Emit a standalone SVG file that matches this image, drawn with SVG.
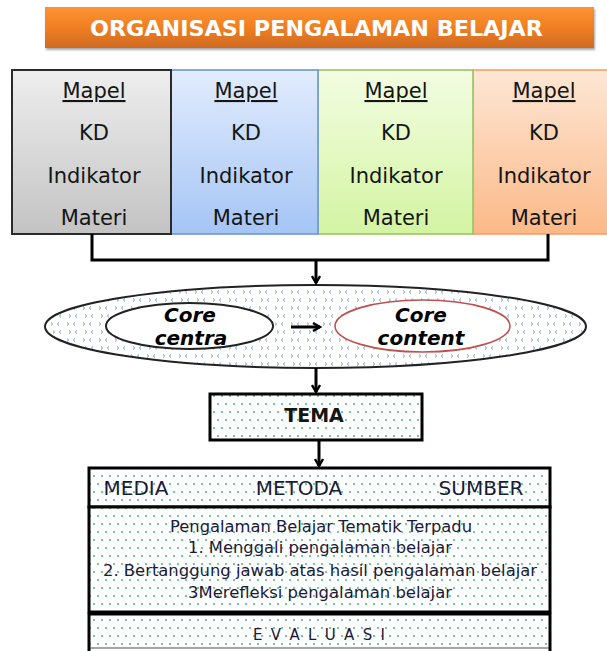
<svg xmlns="http://www.w3.org/2000/svg" width="607" height="651" viewBox="0 0 607 651">
<defs>
<style>
.t{font-family:"DejaVu Sans","Liberation Sans",sans-serif;fill:#151515;text-anchor:middle}
.box{font-size:21px}
.core{font-size:20px;font-weight:bold;font-style:italic;fill:#000}
.row{font-size:20px;fill:#1a1a3a}
.mid{font-size:15px;fill:#1a1a3a}
.thick{fill:none;stroke:#000;stroke-width:3}
.conn{fill:none;stroke:#000;stroke-width:3}
</style>
<linearGradient id="gTitle" x1="0" y1="0" x2="0" y2="1">
<stop offset="0" stop-color="#fd9332"/><stop offset="0.5" stop-color="#f07f22"/><stop offset="1" stop-color="#cf6a20"/>
</linearGradient>
<linearGradient id="gGray" x1="0" y1="0" x2="0" y2="1"><stop offset="0" stop-color="#eeeeee"/><stop offset="1" stop-color="#c3c3c3"/></linearGradient>
<linearGradient id="gBlue" x1="0" y1="0" x2="0" y2="1"><stop offset="0" stop-color="#e2ecfd"/><stop offset="1" stop-color="#a5c5f5"/></linearGradient>
<linearGradient id="gGreen" x1="0" y1="0" x2="0" y2="1"><stop offset="0" stop-color="#f3fde2"/><stop offset="1" stop-color="#d3f4a2"/></linearGradient>
<linearGradient id="gOrange" x1="0" y1="0" x2="0" y2="1"><stop offset="0" stop-color="#fde7d4"/><stop offset="1" stop-color="#fbb988"/></linearGradient>
<pattern id="pBlue" width="16" height="16" patternUnits="userSpaceOnUse">
<rect width="16" height="16" fill="#fff"/>
<path d="M3,2.5 L4.6,4 L3,5.5 M13,10.5 L11.4,12 L13,13.5" fill="none" stroke="#5b8bd8" stroke-width="0.9"/>
<path d="M11,2.5 L9.4,4 L11,5.5 M5,10.5 L6.6,12 L5,13.5" fill="none" stroke="#5b8bd8" stroke-width="0.9"/>
</pattern>
<pattern id="pGreen" width="8" height="16" patternUnits="userSpaceOnUse">
<rect width="8" height="16" fill="#fff"/>
<circle cx="2" cy="4" r="0.9" fill="#2bb56a"/><circle cx="6" cy="12" r="0.9" fill="#2bb56a"/>
</pattern>
<filter id="sh" x="-5%" y="-20%" width="110%" height="150%">
<feDropShadow dx="1" dy="2" stdDeviation="1.2" flood-color="#000" flood-opacity="0.35"/>
</filter>
<marker id="ah" viewBox="0 0 10 10" refX="8" refY="5" markerWidth="10" markerHeight="10" markerUnits="userSpaceOnUse" orient="auto">
<path d="M1,1 L8,5 L1,9" fill="none" stroke="#000" stroke-width="2.4"/>
</marker>
</defs>
<rect width="607" height="651" fill="#fff"/>

<g id="title">
<rect x="45" y="7" width="549" height="41" fill="url(#gTitle)" filter="url(#sh)"/>
<text x="316.5" y="36" font-family="DejaVu Sans,Liberation Sans,sans-serif" font-size="22" font-weight="bold" fill="#fff" text-anchor="middle" textLength="453" lengthAdjust="spacingAndGlyphs">ORGANISASI PENGALAMAN BELAJAR</text>
</g>

<g id="box4">
<rect x="473" y="70" width="140" height="164" fill="url(#gOrange)" stroke="#f6a068" stroke-width="1.6"/>
<text class="t box" x="544" y="98" text-decoration="underline">Mapel</text>
<text class="t box" x="544" y="140">KD</text>
<text class="t box" x="544" y="183">Indikator</text>
<text class="t box" x="544" y="225">Materi</text>
</g>
<g id="box3">
<rect x="318" y="70" width="155" height="164" fill="url(#gGreen)" stroke="#9cc464" stroke-width="1.6"/>
<text class="t box" x="396" y="98" text-decoration="underline">Mapel</text>
<text class="t box" x="396" y="140">KD</text>
<text class="t box" x="396" y="183">Indikator</text>
<text class="t box" x="396" y="225">Materi</text>
</g>
<g id="box2">
<rect x="171" y="70" width="147" height="164" fill="url(#gBlue)" stroke="#6e96d0" stroke-width="1.6"/>
<text class="t box" x="246" y="98" text-decoration="underline">Mapel</text>
<text class="t box" x="246" y="140">KD</text>
<text class="t box" x="246" y="183">Indikator</text>
<text class="t box" x="246" y="225">Materi</text>
</g>
<g id="box1">
<rect x="12" y="70" width="159" height="164" fill="url(#gGray)" stroke="#2a2a2a" stroke-width="2"/>
<text class="t box" x="94" y="98" text-decoration="underline">Mapel</text>
<text class="t box" x="94" y="140">KD</text>
<text class="t box" x="94" y="183">Indikator</text>
<text class="t box" x="94" y="225">Materi</text>
</g>

<g id="core-ellipse">
<ellipse cx="315.5" cy="326.5" rx="270.5" ry="41.5" fill="url(#pBlue)" stroke="#222" stroke-width="2"/>
</g>
<g id="core-centra">
<ellipse cx="189.5" cy="326" rx="83.5" ry="23" fill="#fff" stroke="#222" stroke-width="2"/>
<text class="t core" x="190" y="322">Core</text>
<text class="t core" x="191" y="345">centra</text>
</g>
<g id="core-content">
<ellipse cx="422.5" cy="326" rx="87.5" ry="26" fill="#fff" stroke="#c0504d" stroke-width="1.6"/>
<text class="t core" x="421" y="322">Core</text>
<text class="t core" x="421" y="345">content</text>
</g>

<g id="tema">
<rect x="210" y="394" width="212" height="46" fill="url(#pGreen)" stroke="#000" stroke-width="3"/>
<text class="t" x="314" y="422" font-size="19" font-weight="bold">TEMA</text>
</g>

<g id="row-media">
<rect x="89" y="468" width="461" height="39" fill="url(#pGreen)" stroke="#000" stroke-width="3"/>
<text class="t row" x="136" y="495">MEDIA</text>
<text class="t row" x="299" y="495">METODA</text>
<text class="t row" x="481" y="495">SUMBER</text>
</g>
<g id="row-pengalaman">
<rect x="89" y="507" width="461" height="105" fill="url(#pGreen)" stroke="#000" stroke-width="3"/>
<text class="t mid" x="321" y="532" textLength="302" lengthAdjust="spacingAndGlyphs">Pengalaman Belajar Tematik Terpadu</text>
<text class="t mid" x="320" y="553" textLength="264" lengthAdjust="spacingAndGlyphs">1. Menggali pengalaman belajar</text>
<text class="t mid" x="320" y="576" textLength="434" lengthAdjust="spacingAndGlyphs">2. Bertanggung jawab atas hasil pengalaman belajar</text>
<text class="t mid" x="320" y="598" textLength="264" lengthAdjust="spacingAndGlyphs">3Merefleksi pengalaman belajar</text>
</g>
<g id="row-evaluasi">
<rect x="89" y="614" width="461" height="34" fill="url(#pGreen)" stroke="none"/>
<path d="M89,648 H550" stroke="#888" stroke-width="1.5" fill="none"/>
<path d="M89,651 V614 H550 V651" class="thick"/>
<text class="t mid" x="319" y="640" font-size="16" textLength="132" lengthAdjust="spacing">E V A L U A S I</text>
</g>

<g id="connectors">
<path class="conn" d="M92,234 V260 H548 V234"/>
<path class="conn" d="M316,260 V283" marker-end="url(#ah)"/>
<path class="conn" d="M291,327 H320" marker-end="url(#ah)"/>
<path class="conn" d="M316,368 V392" marker-end="url(#ah)"/>
<path class="conn" d="M319,441 V466" marker-end="url(#ah)"/>
</g>
</svg>
